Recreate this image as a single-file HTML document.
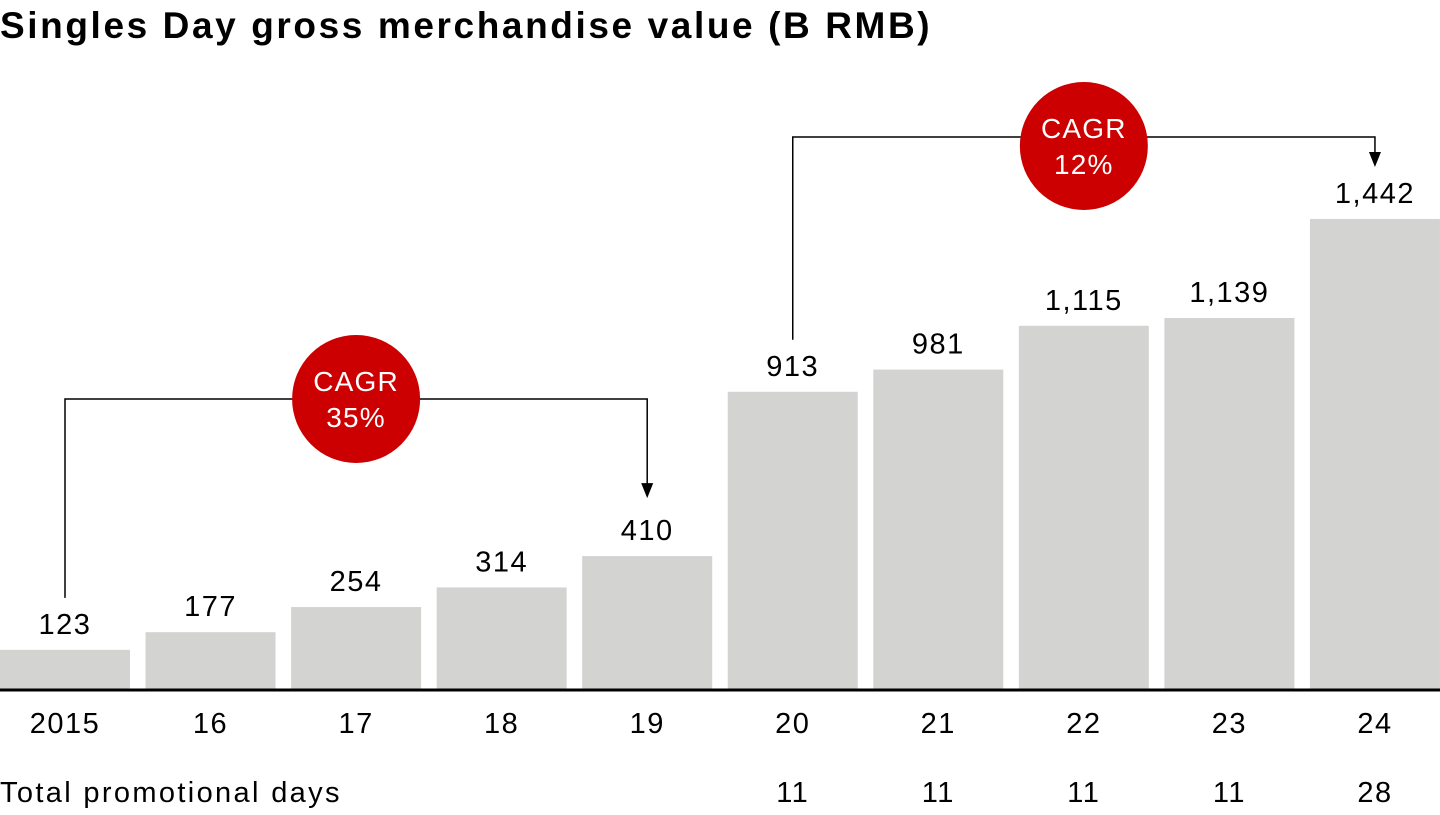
<!DOCTYPE html>
<html><head><meta charset="utf-8"><style>
body{margin:0;background:#fff;width:1440px;height:810px;overflow:hidden;font-family:"Liberation Sans",sans-serif}
</style></head><body>
<svg id="chart" width="1440" height="810" xmlns="http://www.w3.org/2000/svg">
<text x="0" y="38" font-size="37" font-weight="bold" letter-spacing="2.6" fill="#000">Singles Day gross merchandise value (B RMB)</text>
<g id="bars"></g>
<line x1="0" x2="1440" y1="690" y2="690" stroke="#000" stroke-width="3"/>
<text x="0" y="802" font-size="29" letter-spacing="2.35" fill="#000">Total promotional days</text>
<g id="ann"></g>
</svg>
<script>
const categories=["2015","16","17","18","19","20","21","22","23","24"];
const values=[123,177,254,314,410,913,981,1115,1139,1442];
const valueLabels=["123","177","254","314","410","913","981","1,115","1,139","1,442"];
const promoDays=["","","","","","11","11","11","11","28"];
const cagrLabels=["35%","12%"];
const NS="http://www.w3.org/2000/svg";
const base=690,scale=471/1442,pitch=145.55,bw=130;
const xc=i=>i*pitch+65;
const yv=v=>base-v*scale;
function mk(t,a,p){const e=document.createElementNS(NS,t);for(const k in a)e.setAttribute(k,a[k]);p.appendChild(e);return e;}
const g=document.getElementById('bars');
const ts={'font-size':29,'letter-spacing':1.5,'text-anchor':'middle',fill:'#000'};
categories.forEach((c,i)=>{
 const r=mk('rect',{x:xc(i)-bw/2,y:yv(values[i]),width:bw,height:base-yv(values[i]),fill:'#d3d3d2'},g);
 
 
 const t=mk('text',Object.assign({x:xc(i),y:yv(values[i])-16},ts),g);t.textContent=valueLabels[i];
 
 
 const a=mk('text',Object.assign({x:xc(i),y:733},ts),g);a.textContent=c;
 
 
 if(promoDays[i]){const p=mk('text',Object.assign({x:xc(i),y:802},ts),g);p.textContent=promoDays[i];
 
 }
});
const an=document.getElementById('ann');
function bracket(i0,i1,yTop,label,idx){
 const x0=xc(i0),x1=xc(i1),y0=yv(values[i0])-52,y1=yv(values[i1])-58+(idx==2?6:0);
 const pl=mk('polyline',{points:`${x0},${y0} ${x0},${yTop} ${x1},${yTop} ${x1},${y1-14}`,fill:'none',stroke:'#000','stroke-width':1.5},an);
 
 
 const ar=mk('polygon',{points:`${x1-6},${y1-15} ${x1+6},${y1-15} ${x1},${y1}`,fill:'#000'},an);
 
 
 const cx=(x0+x1)/2,cy=yTop+(idx==2?9:0);
 const c=mk('circle',{cx:cx,cy:cy,r:64,fill:'#cc0000'},an);
 
 
 const t1=mk('text',{x:cx,y:cy-8,'font-size':28,'letter-spacing':1.2,'text-anchor':'middle',fill:'#fff'},an);t1.textContent='CAGR';
 
 
 const t2=mk('text',{x:cx,y:cy+28,'font-size':28,'letter-spacing':1.2,'text-anchor':'middle',fill:'#fff'},an);t2.textContent=label;
 
 
}
bracket(0,4,399,cagrLabels[0],1);
bracket(5,9,137,cagrLabels[1],2);
</script>
</body></html>
